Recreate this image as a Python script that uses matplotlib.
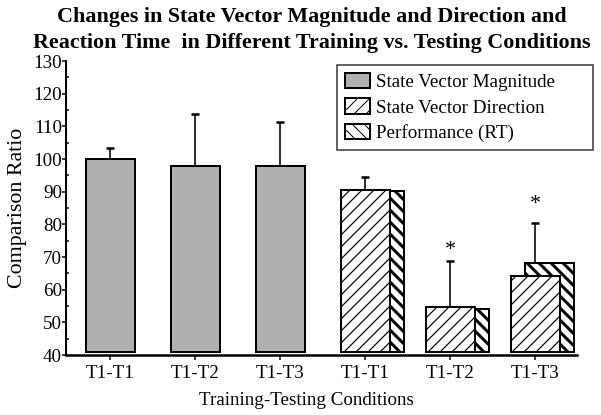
import numpy as np
import matplotlib
matplotlib.use("Agg")
import matplotlib.pyplot as plt
from matplotlib.ticker import MultipleLocator

plt.rcParams['font.family'] = ['Liberation Serif', 'DejaVu Serif']

conditions = ["T1-T1", "T1-T2", "T1-T3", "T1-T1", "T1-T2", "T1-T3"]

magnitude = [100.1, 98.0, 98.0]
magnitude_err_top = [103.3, 113.7, 111.4]

direction = [90.5, 54.8, 64.2]
direction_err_top = [94.5, 68.8, 80.3]
rt = [90.3, 54.0, 68.2]

star_groups = [1, 2]
star_y = [72.1, 86.1]

base = 41

W, H = 601, 415
fig = plt.figure(figsize=(W / 72, H / 72), dpi=72)
ax = fig.add_axes([66 / W, 1 - 355 / H, (577 - 66) / W, (355 - 61) / H])

x_mag = np.arange(3)
x_dir = np.arange(3) + 3
width = 0.58

def set_hlw(bars, lw):
    for b in bars:
        try:
            b.set_hatch_linewidth(lw)
        except AttributeError:
            pass

mag_bars = ax.bar(x_mag, np.array(magnitude) - base, width, bottom=base,
                  facecolor='#b0b0b0', edgecolor='black', linewidth=2,
                  label='State Vector Magnitude', zorder=3)

rt_bars = ax.bar(x_dir + 0.17, np.array(rt) - base, width, bottom=base,
                 facecolor='white', edgecolor='black', linewidth=2,
                 hatch='\\\\', label='Performance (RT)', zorder=2)
set_hlw(rt_bars, 3.0)

dir_bars = ax.bar(x_dir, np.array(direction) - base, width, bottom=base,
                  facecolor='white', edgecolor='black', linewidth=2,
                  hatch='//', label='State Vector Direction', zorder=3)
set_hlw(dir_bars, 1.2)

# error bars (upper only)
ax.errorbar(x_mag, magnitude, yerr=[np.zeros(3), np.array(magnitude_err_top) - magnitude],
            fmt='none', ecolor='black', elinewidth=1.6, capsize=4, capthick=2.5, zorder=2)
ax.errorbar(x_dir, direction, yerr=[np.zeros(3), np.array(direction_err_top) - direction],
            fmt='none', ecolor='black', elinewidth=1.6, capsize=4, capthick=2.5, zorder=1)

for g, y in zip(star_groups, star_y):
    ax.text(x_dir[g], y, '*', ha='center', va='center', fontsize=22)

ax.set_xlim(-0.52, 5.49)
ax.set_ylim(40, 130)
ax.set_xticks(np.arange(6))
ax.set_xticklabels(conditions, fontsize=19)
ax.yaxis.set_major_locator(MultipleLocator(10))
ax.yaxis.set_minor_locator(MultipleLocator(5))
ax.tick_params(axis='y', which='major', direction='out', length=4, width=1.5, labelsize=19, pad=0)
ax.tick_params(axis='y', which='minor', direction='in', length=3, width=1.5)
ax.tick_params(axis='x', direction='out', length=5, width=1.5, pad=5)

for s in ['top', 'right']:
    ax.spines[s].set_visible(False)
ax.spines['left'].set_linewidth(2)
ax.spines['bottom'].set_linewidth(2.5)

ax.set_ylabel('Comparison Ratio', fontsize=22)
ax.yaxis.set_label_coords(-(66 - 27) / (577 - 66), 0.5)
ax.set_xlabel('Training-Testing Conditions', fontsize=19)
ax.xaxis.set_label_coords((306 - 66) / (577 - 66), -0.125)

fig.text(312 / W, 1 - 7 / H,
         "Changes in State Vector Magnitude and Direction and\nReaction Time  in Different Training vs. Testing Conditions",
         ha='center', va='top', fontsize=22, fontweight='bold', linespacing=1.4)

leg = ax.legend(handles=[mag_bars, dir_bars, rt_bars], loc='upper left',
                bbox_to_anchor=(337 / W, 1 - 150 / H, 256 / W, 85 / H),
                bbox_transform=fig.transFigure, mode='expand',
                fontsize=19, frameon=True, fancybox=False, borderaxespad=0,
                handlelength=1.35, handleheight=0.85, handletextpad=0.3,
                labelspacing=0.4, borderpad=0.4)
leg.get_frame().set_edgecolor('black')
leg.get_frame().set_linewidth(1.5)

fig.savefig('out.png', dpi=72)
